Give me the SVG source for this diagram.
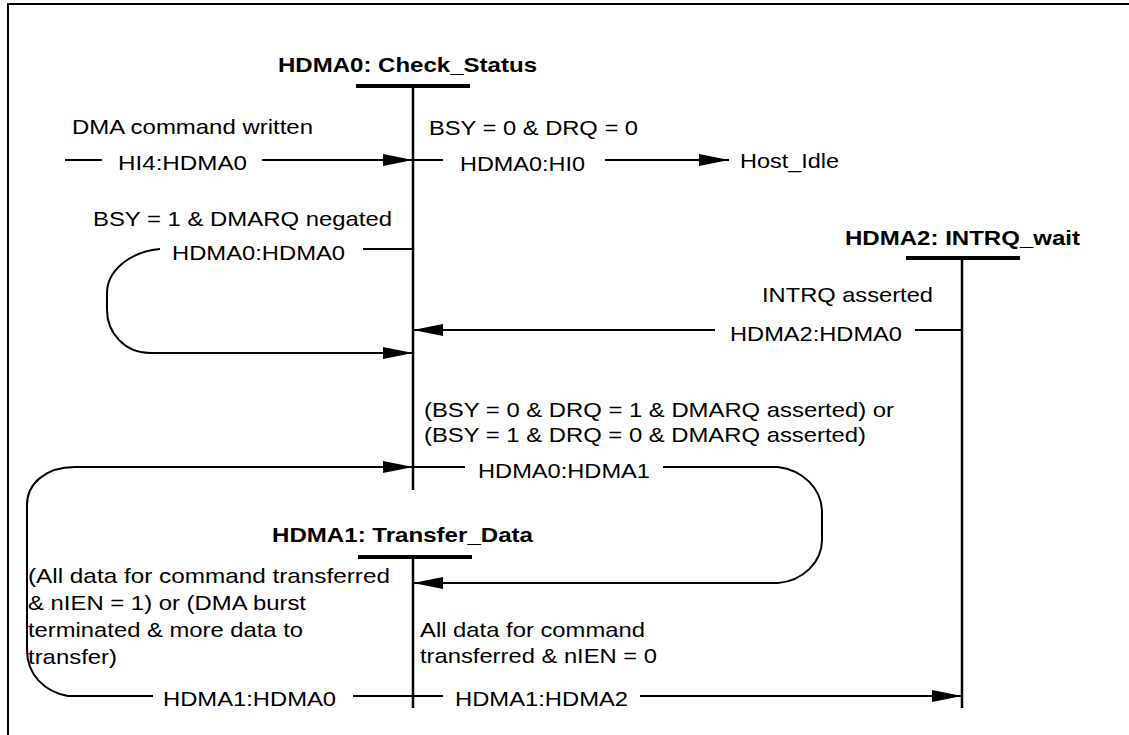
<svg xmlns="http://www.w3.org/2000/svg" width="1129" height="735" viewBox="0 0 1129 735">
<style>
text{font-family:"Liberation Sans",Arial,sans-serif;font-size:21px;fill:#000}
.t{font-weight:bold}
.ln{stroke:#000;stroke-width:2;fill:none}
.life{stroke:#000;stroke-width:2.5;fill:none}
.bar{stroke:#000;stroke-width:4;fill:none}
.arr{marker-end:url(#ah)}
</style>
<defs>
<marker id="ah" markerUnits="userSpaceOnUse" markerWidth="30" markerHeight="12" refX="30" refY="6" orient="auto">
<path d="M0,0 L30,6 L0,12 z" fill="#000"/>
</marker>
</defs>
<rect x="8" y="4" width="1200" height="800" fill="#fff" stroke="#000" stroke-width="2"/>

<g id="HDMA0">
<text class="t" x="278" y="72" textLength="259" lengthAdjust="spacingAndGlyphs">HDMA0: Check_Status</text>
<line class="bar" x1="356" y1="86" x2="470" y2="86"/>
<line class="life" x1="413" y1="86" x2="413" y2="490"/>
</g>
<g id="HDMA2">
<text class="t" x="845" y="245" textLength="235" lengthAdjust="spacingAndGlyphs">HDMA2: INTRQ_wait</text>
<line class="bar" x1="906" y1="258" x2="1020" y2="258"/>
<line class="life" x1="962" y1="258" x2="962" y2="708"/>
</g>
<g id="HDMA1">
<text class="t" x="272" y="542" textLength="261" lengthAdjust="spacingAndGlyphs">HDMA1: Transfer_Data</text>
<line class="bar" x1="358" y1="557" x2="472" y2="557"/>
<line class="life" x1="413" y1="557" x2="413" y2="708"/>
</g>
<g id="Host_Idle">
<text x="740" y="168" textLength="99" lengthAdjust="spacingAndGlyphs">Host_Idle</text>
</g>

<g id="connectors">
<line class="ln" x1="65" y1="160" x2="102" y2="160"/>
<line class="ln arr" x1="262" y1="160" x2="413" y2="160"/>
<line class="ln" x1="413" y1="160" x2="443" y2="160"/>
<line class="ln arr" x1="605" y1="160" x2="729" y2="160"/>
<line class="ln" x1="363" y1="249" x2="413" y2="249"/>
<path class="ln arr" d="M160,249 C128,252 107,272 107,293 V310 C107,333 125,353 150,353 H413"/>
<line class="ln" x1="915" y1="330" x2="962" y2="330"/>
<line class="ln arr" x1="715" y1="330" x2="413" y2="330"/>
<line class="ln" x1="413" y1="467" x2="465" y2="467"/>
<path class="ln arr" d="M663,467 H778 C802,470 822,488 822,512 V540 C822,563 802,581 778,583 H413"/>
<line class="ln" x1="353" y1="696" x2="413" y2="696"/>
<path class="ln arr" d="M153,696 H68 C45,692 27,675 27,650 V505 C27,484 45,467 75,467 H413"/>
<line class="ln" x1="413" y1="696" x2="443" y2="696"/>
<line class="ln arr" x1="640" y1="696" x2="962" y2="696"/>
</g>

<g id="labels">
<text x="72" y="134" textLength="241" lengthAdjust="spacingAndGlyphs">DMA command written</text>
<text x="118" y="170" textLength="129" lengthAdjust="spacingAndGlyphs">HI4:HDMA0</text>
<text x="429" y="135" textLength="209" lengthAdjust="spacingAndGlyphs">BSY = 0 &amp; DRQ = 0</text>
<text x="460" y="171" textLength="125" lengthAdjust="spacingAndGlyphs">HDMA0:HI0</text>
<text x="93" y="226" textLength="299" lengthAdjust="spacingAndGlyphs">BSY = 1 &amp; DMARQ negated</text>
<text x="172" y="260" textLength="173" lengthAdjust="spacingAndGlyphs">HDMA0:HDMA0</text>
<text x="762" y="302" textLength="171" lengthAdjust="spacingAndGlyphs">INTRQ asserted</text>
<text x="730" y="341" textLength="172" lengthAdjust="spacingAndGlyphs">HDMA2:HDMA0</text>
<text x="424" y="417" textLength="470" lengthAdjust="spacingAndGlyphs">(BSY = 0 &amp; DRQ = 1 &amp; DMARQ asserted) or</text>
<text x="424" y="442" textLength="442" lengthAdjust="spacingAndGlyphs">(BSY = 1 &amp; DRQ = 0 &amp; DMARQ asserted)</text>
<text x="478" y="478" textLength="172" lengthAdjust="spacingAndGlyphs">HDMA0:HDMA1</text>
<text x="28" y="583" textLength="362" lengthAdjust="spacingAndGlyphs">(All data for command transferred</text>
<text x="28" y="610" textLength="278" lengthAdjust="spacingAndGlyphs">&amp; nIEN = 1) or (DMA burst</text>
<text x="28" y="637" textLength="275" lengthAdjust="spacingAndGlyphs">terminated &amp; more data to</text>
<text x="28" y="664" textLength="89" lengthAdjust="spacingAndGlyphs">transfer)</text>
<text x="420" y="637" textLength="225" lengthAdjust="spacingAndGlyphs">All data for command</text>
<text x="420" y="663" textLength="237" lengthAdjust="spacingAndGlyphs">transferred &amp; nIEN = 0</text>
<text x="163" y="706" textLength="173" lengthAdjust="spacingAndGlyphs">HDMA1:HDMA0</text>
<text x="455" y="706" textLength="173" lengthAdjust="spacingAndGlyphs">HDMA1:HDMA2</text>
</g>
</svg>
